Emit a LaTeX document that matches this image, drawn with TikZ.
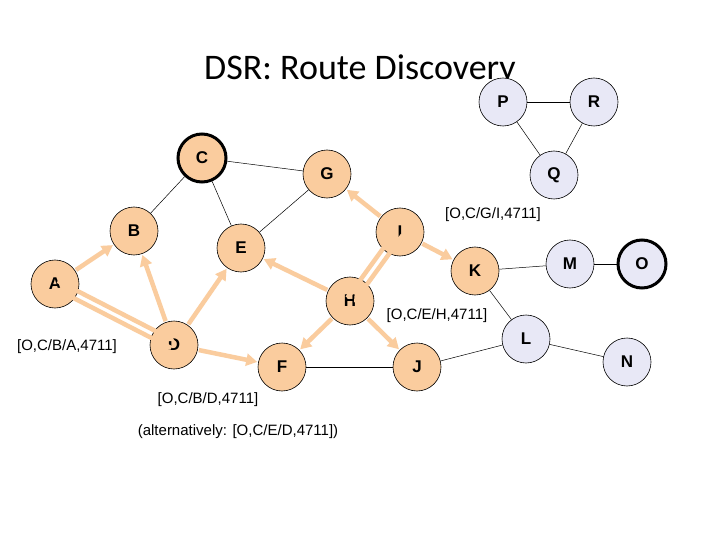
\documentclass[tikz,border=0pt]{standalone}
\usepackage{fontspec}
\setmainfont{Liberation Sans}
\newfontfamily\titlefont{Carlito}
\usetikzlibrary{arrows.meta,calc}
\definecolor{hot}{RGB}{250,204,158}
\definecolor{cold}{RGB}{232,232,246}
\begin{document}
\begin{tikzpicture}[x=1pt,y=-1pt,
  nd/.style={circle, draw=black, line width=0.6pt, minimum size=48pt, inner sep=0pt, font=\fontsize{17}{17}\selectfont\bfseries},
  on/.style={nd, fill=hot},
  off/.style={nd, fill=cold},
  ep/.style={line width=3pt},
  link/.style={draw=black, line width=0.5pt},
  rreq/.style={draw=hot, line width=4.5pt, -{Triangle[length=11pt,width=12pt]}, shorten >=1pt, shorten <=1pt},
  lbl/.style={font=\fontsize{15}{15}\selectfont, inner sep=0pt}
]
\useasboundingbox (0,0) rectangle (720,540);
\fill[white] (0,0) rectangle (720,540);
\node[font=\titlefont\fontsize{36}{36}\selectfont] (title) at (360,70) {DSR: Route Discovery};

% nodes
\node[on, ep] (C) at (202,158) {C};
\node[on] (G) at (327,174) {G};
\node[on] (B) at (134,231) {B};
\node[on] (E) at (241,248) {E};
\node[on] (I) at (400,232) {I};
\node[on] (A) at (55,284) {A};
\node[on] (H) at (350,301) {H};
\node[on] (D) at (174,345) {D};
\node[on] (F) at (282,367) {F};
\node[on] (J) at (417,367) {J};
\node[on] (K) at (475,271) {K};
\node[off] (P) at (503,102) {P};
\node[off] (R) at (594,102) {R};
\node[off] (Q) at (554,175) {Q};
\node[off] (M) at (570,264) {M};
\node[off, ep] (O) at (642,264) {O};
\node[off] (L) at (526,339) {L};
\node[off] (N) at (627,362) {N};

% plain links
\draw[link] (C) -- (B);
\draw[link] (C) -- (E);
\draw[link] (C) -- (G);
\draw[link] (G) -- (E);
\draw[link] (F) -- (J);
\draw[link] (J) -- (L);
\draw[link] (K) -- (L);
\draw[link] (K) -- (M);
\draw[link] (M) -- (O);
\draw[link] (L) -- (N);
\draw[link] (P) -- (R);
\draw[link] (P) -- (Q);
\draw[link] (R) -- (Q);

% route request flooding
\draw[rreq] (A) -- (B);
\draw[rreq] ($(A)!4pt!90:(D)$) -- ($(D)!4pt!-90:(A)$);
\draw[rreq] ($(D)!4pt!90:(A)$) -- ($(A)!4pt!-90:(D)$);
\draw[rreq] (D) -- (B);
\draw[rreq] (D) -- (E);
\draw[rreq] (D) -- (F);
\draw[rreq] (H) -- (E);
\draw[rreq] (H) -- (F);
\draw[rreq] (H) -- (J);
\draw[rreq] ($(H)!4pt!90:(I)$) -- ($(I)!4pt!-90:(H)$);
\draw[rreq] ($(I)!4pt!90:(H)$) -- ($(H)!4pt!-90:(I)$);
\draw[rreq] (I) -- (G);
\draw[rreq] (I) -- (K);

% route records
\node[lbl] (rA) at (67,347) {[O,C/B/A,4711]};
\node[lbl] (rD) at (208,400) {[O,C/B/D,4711]};
\node[lbl] (rD2) at (238,432) {(alternatively: [O,C/E/D,4711])};
\node[lbl] (rI) at (493,215) {[O,C/G/I,4711]};
\node[lbl] (rH) at (437,316) {[O,C/E/H,4711]};
\end{tikzpicture}
\end{document}
